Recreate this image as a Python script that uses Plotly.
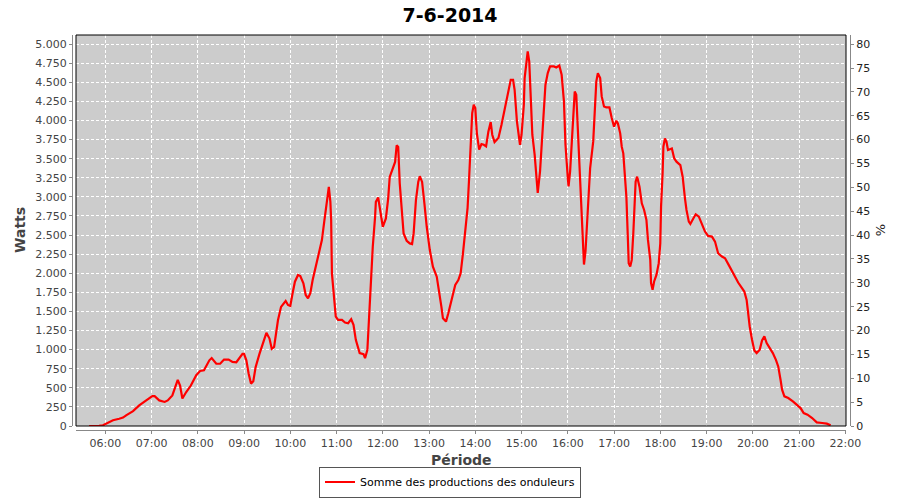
import plotly.graph_objects as go

DAY = "2014-06-07"

times = [
    "05:39", "05:45", "05:52", "05:57", "06:01", "06:05", "06:10", "06:18", "06:23", "06:27",
    "06:36", "06:44", "06:53", "07:01", "07:04", "07:10", "07:17", "07:21", "07:27", "07:31",
    "07:34", "07:37", "07:40", "07:45", "07:51", "07:58", "08:03", "08:08", "08:15", "08:18",
    "08:24", "08:29", "08:34", "08:40", "08:45", "08:50", "08:58", "09:00", "09:03", "09:06",
    "09:09", "09:12", "09:15", "09:20", "09:24", "09:29", "09:33", "09:36", "09:39", "09:44",
    "09:48", "09:54", "09:57", "10:00", "10:03", "10:06", "10:10", "10:13", "10:17", "10:20",
    "10:23", "10:26", "10:29", "10:33", "10:38", "10:41", "10:44", "10:47", "10:49", "10:50",
    "10:52", "10:53", "10:54", "10:57", "10:59", "11:02", "11:07", "11:11", "11:15", "11:19",
    "11:22", "11:25", "11:30", "11:35", "11:37", "11:40", "11:42", "11:44", "11:47", "11:50",
    "11:51", "11:54", "11:57", "12:00", "12:04", "12:07", "12:09", "12:13", "12:16", "12:18",
    "12:20", "12:22", "12:25", "12:27", "12:31", "12:35", "12:38", "12:40", "12:43", "12:46",
    "12:48", "12:51", "12:54", "12:57", "13:01", "13:05", "13:10", "13:13", "13:16", "13:18",
    "13:22", "13:25", "13:29", "13:34", "13:38", "13:41", "13:44", "13:47", "13:50", "13:52",
    "13:54", "13:56", "13:58", "14:00", "14:02", "14:05", "14:08", "14:11", "14:14", "14:17",
    "14:20", "14:22", "14:25", "14:30", "14:34", "14:39", "14:43", "14:46", "14:49", "14:51",
    "14:54", "14:57", "14:58", "15:00", "15:03", "15:04", "15:07", "15:08", "15:10", "15:12",
    "15:14", "15:17", "15:20", "15:21", "15:24", "15:26", "15:29", "15:31", "15:34", "15:37",
    "15:42", "15:45", "15:49", "15:52", "15:55", "15:57", "16:00", "16:01", "16:03", "16:07",
    "16:09", "16:11", "16:13", "16:15", "16:18", "16:20", "16:21", "16:23", "16:26", "16:29",
    "16:33", "16:35", "16:37", "16:39", "16:42", "16:44", "16:47", "16:50", "16:54", "16:57",
    "17:00", "17:03", "17:05", "17:08", "17:10", "17:12", "17:14", "17:16", "17:18", "17:19",
    "17:21", "17:23", "17:25", "17:27", "17:28", "17:30", "17:33", "17:36", "17:39", "17:42",
    "17:44", "17:47", "17:48", "17:50", "17:52", "17:55", "17:58", "18:00", "18:01", "18:03",
    "18:04", "18:06", "18:08", "18:10", "18:13", "18:15", "18:18", "18:21", "18:26", "18:29",
    "18:32", "18:34", "18:37", "18:39", "18:43", "18:46", "18:50", "18:54", "18:58", "19:02",
    "19:07", "19:11", "19:15", "19:20", "19:24", "19:28", "19:33", "19:37", "19:41", "19:46",
    "19:49", "19:52", "19:54", "19:56", "19:59", "20:02", "20:05", "20:09", "20:12", "20:15",
    "20:18", "20:22", "20:26", "20:30", "20:33", "20:36", "20:38", "20:41", "20:46", "20:52",
    "20:57", "21:02", "21:06", "21:11", "21:17", "21:23", "21:30", "21:36", "21:41",
]

watts = [
    0, 0, 3, 10, 30, 55, 75, 95, 110, 140,
    195, 270, 335, 390, 390, 335, 315, 335, 400, 510,
    605, 530, 360, 445, 530, 665, 720, 730, 860, 890,
    815, 815, 870, 870, 840, 835, 945, 945, 860, 685,
    555, 585, 770, 945, 1075, 1220, 1145, 1010, 1035, 1385,
    1560, 1637, 1585, 1572, 1738, 1890, 1977, 1964, 1868, 1716,
    1672, 1738, 1912, 2086, 2282, 2434, 2674, 2913, 3066, 3131,
    2935, 2696, 1999, 1651, 1433, 1389, 1389, 1354, 1346, 1398,
    1324, 1128, 954, 941, 888, 997, 1389, 1825, 2347, 2739,
    2935, 2992, 2805, 2609, 2718, 2979, 3262, 3371, 3458, 3676,
    3654, 3175, 2739, 2522, 2426, 2391, 2382, 2522, 2957, 3196,
    3271, 3196, 2913, 2609, 2304, 2086, 1955, 1781, 1563, 1411,
    1367, 1476, 1651, 1847, 1912, 1999, 2260, 2565, 2855, 3248,
    3595, 4098, 4207, 4163, 3836, 3618, 3692, 3683, 3662, 3858,
    3980, 3814, 3718, 3771, 3945, 4207, 4425, 4534, 4534, 4403,
    3989, 3771, 3683, 3814, 4207, 4555, 4861, 4904, 4773, 4250,
    3814, 3553, 3095, 3052, 3335, 3683, 4163, 4468, 4621, 4708,
    4708, 4695, 4721, 4599, 4250, 3683, 3248, 3139, 3335, 3989,
    4381, 4337, 3901, 3378, 2725, 2245, 2114, 2289, 2855, 3378,
    3727, 4119, 4512, 4621, 4555, 4316, 4185, 4172, 4172, 4032,
    3919, 3997, 3962, 3832, 3657, 3570, 3265, 3003, 2437, 2132,
    2088, 2175, 2524, 2960, 3200, 3265, 3134, 2916, 2829, 2698,
    2437, 2175, 1870, 1783, 1892, 1979, 2132, 2393, 2873, 3309,
    3657, 3766, 3723, 3614, 3622, 3635, 3505, 3461, 3417, 3265,
    2982, 2829, 2676, 2646, 2720, 2772, 2742, 2633, 2546, 2489,
    2480, 2415, 2262, 2219, 2197, 2123, 2023, 1957, 1879, 1805,
    1761, 1652, 1478, 1303, 1129, 990, 955, 998, 1120, 1173,
    1085, 1020, 955, 867, 780, 606, 475, 388, 366, 323,
    279, 235, 170, 148, 105, 48, 39, 31, 9,
]

series_name = "Somme des productions des onduleurs"
title_text = "7-6-2014"
left_title = "Watts"
right_title = "%"
x_title = "Période"

x_range = [DAY + " 05:22:00", DAY + " 22:00:55"]
w_max = 5120
pct_max = w_max * 80 / 5000

xs = [DAY + " " + t for t in times]

fig = go.Figure()
fig.add_trace(go.Scatter(
    x=xs, y=watts, mode="lines", name=series_name,
    line=dict(color="#FF0000", width=2.2),
    hoverinfo="skip",
))
fig.add_trace(go.Scatter(
    x=[xs[0]], y=[None], yaxis="y2", mode="lines", showlegend=False,
    hoverinfo="skip",
))

tick_font = dict(family="DejaVu Sans", size=11, color="#444444")
axis_gray = "#888888"

# paper area: x 72..850 (778 px), y 35..430 (395 px)
dx = 4 / 778
dy = 4 / 395

fig.update_layout(
    template="none",
    width=900, height=500,
    margin=dict(l=72, r=50, t=35, b=70, pad=0),
    paper_bgcolor="white",
    plot_bgcolor="#CCCCCC",
    separators=",.",
    showlegend=True,
    hovermode=False,
    title=dict(text="<b>" + title_text + "</b>", x=0.5, xref="container", xanchor="center",
               y=0.97, yref="container", yanchor="middle", automargin=False,
               font=dict(family="DejaVu Sans", size=19, color="black")),
    xaxis=dict(
        type="date", range=x_range, domain=[dx, 1 - dx], automargin=False,
        anchor="free", position=0,
        tickformat="%H:%M", dtick=3600000, tick0=DAY + " 06:00",
        showgrid=True, gridcolor="white", griddash="3px,2px", gridwidth=1,
        showline=True, linecolor=axis_gray, linewidth=1,
        ticks="outside", ticklen=3, tickcolor=axis_gray,
        tickfont=tick_font, zeroline=False,
    ),
    yaxis=dict(
        range=[0, w_max], domain=[dy, 1], automargin=False,
        anchor="free", position=0,
        dtick=250, tick0=0, tickformat=",.0f",
        showgrid=True, gridcolor="white", griddash="3px,2px", gridwidth=1,
        showline=True, linecolor=axis_gray, linewidth=1,
        ticks="outside", ticklen=3, tickcolor=axis_gray,
        tickfont=tick_font, zeroline=False,
    ),
    yaxis2=dict(
        range=[0, pct_max], overlaying="y", side="right", automargin=False,
        anchor="free", position=1,
        dtick=5, tick0=0,
        showgrid=False, zeroline=False,
        showline=True, linecolor=axis_gray, linewidth=1,
        ticks="outside", ticklen=3, tickcolor=axis_gray,
        tickfont=dict(family="DejaVu Sans", size=11, color="#222222"),
    ),
    legend=dict(
        orientation="h", xref="container", yref="container",
        x=0.5, xanchor="center", y=0.036, yanchor="middle",
        bordercolor="#555555", borderwidth=1, bgcolor="white",
        font=dict(family="DejaVu Sans", size=11, color="black"),
        itemwidth=30,
    ),
    annotations=[
        dict(text="<b>" + left_title + "</b>", xref="paper", yref="paper", x=-0.067, y=0.506,
             textangle=-90, showarrow=False, xanchor="center", yanchor="middle",
             font=dict(family="DejaVu Sans", size=14, color="#444444")),
        dict(text="<b>" + x_title + "</b>", xref="paper", yref="paper", x=0.5, y=-0.076,
             showarrow=False, xanchor="center", yanchor="middle",
             font=dict(family="DejaVu Sans", size=14, color="#444444")),
        dict(text=right_title, xref="paper", yref="paper", x=1.0386, y=0.506,
             textangle=-90, showarrow=False, xanchor="center", yanchor="middle",
             font=dict(family="DejaVu Sans", size=13, color="#222222")),
    ],
    shapes=[
        dict(type="rect", xref="x domain", yref="y domain", x0=0, x1=1, y0=0, y1=1,
             line=dict(color="black", width=1), fillcolor="rgba(0,0,0,0)", layer="above"),
    ],
)

fig.write_html("out.html", config={"displayModeBar": False},
               post_script="document.body.style.margin='0';")
